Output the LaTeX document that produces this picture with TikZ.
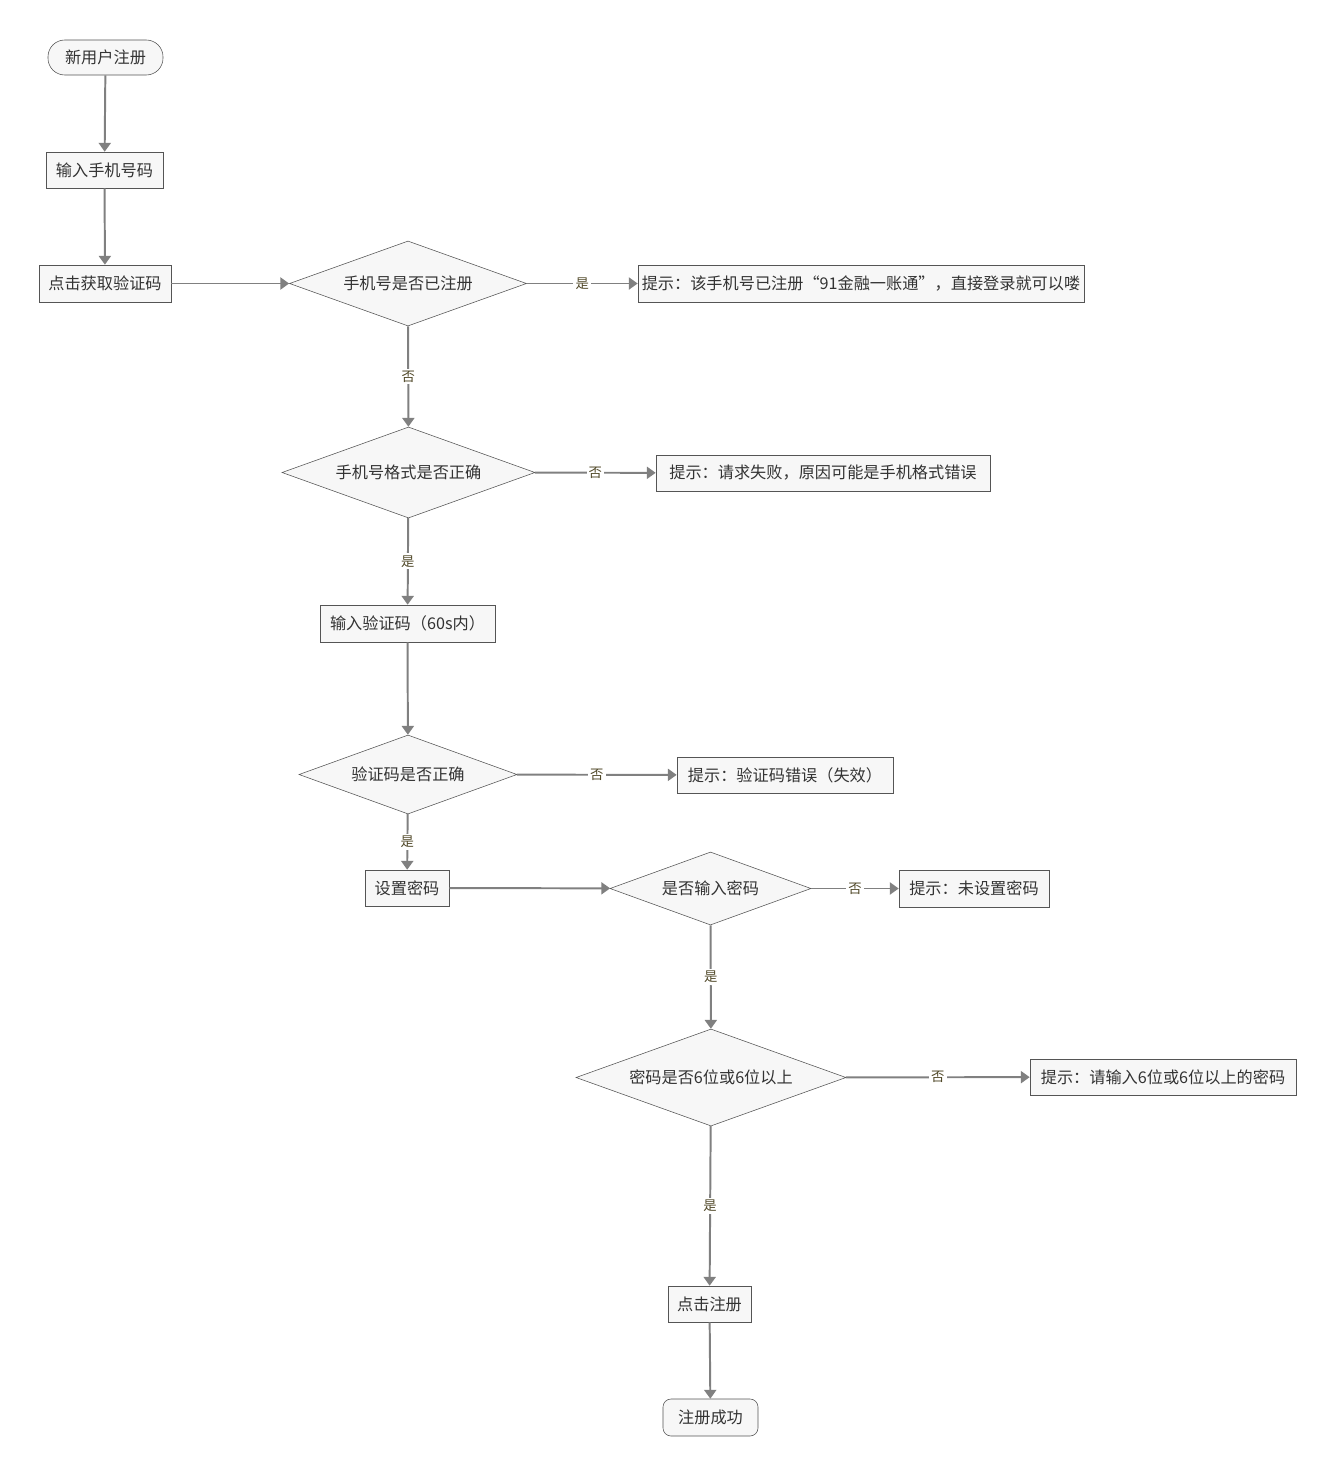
\documentclass[tikz,border=0pt]{standalone}
\usepackage{fontspec}
\setmainfont{Noto Sans CJK SC}
\usepackage{xcolor}
\definecolor{fcfill}{RGB}{247,247,247}
\definecolor{fcline}{RGB}{85,85,85}
\definecolor{fcarrow}{RGB}{128,128,128}
\definecolor{fctext}{RGB}{51,51,51}
\definecolor{fclabel}{RGB}{80,72,40}
\usetikzlibrary{arrows.meta,positioning,shapes.geometric}

\begin{document}
\begin{tikzpicture}[
    x=0.025cm, y=-0.025cm,
    term/.style={rectangle, rounded corners=0.2cm, draw=fcline, fill=fcfill,
      text=fctext, font=\fontsize{11.5pt}{13pt}\selectfont, inner sep=1pt},
    box/.style={rectangle, draw=fcline, fill=fcfill, text=fctext,
      font=\fontsize{11.5pt}{13pt}\selectfont, inner sep=1pt},
    dec/.style={diamond, draw=fcline, fill=fcfill, text=fctext, aspect=2.8,
      inner sep=0pt, font=\fontsize{11.5pt}{13pt}\selectfont},
    arr/.style={draw=fcarrow, line width=1.4pt,
      -{Triangle[length=0.22cm, width=0.3cm]}},
    lbl/.style={fill=white, text=fclabel, inner sep=1.5pt,
      font=\fontsize{9.5pt}{10pt}\selectfont}
  ]
    \useasboundingbox (0,0) rectangle (1335,1474);

    % Main column
    \node[term, rounded corners=0.42cm, minimum width=2.875cm, minimum height=0.875cm] (start) at (105.5,57.5) {新用户注册};
    \node[box, minimum width=2.925cm, minimum height=0.9cm]   (phone) at (104.5,170)  {输入手机号码};
    \node[box, minimum width=3.3cm, minimum height=0.925cm]   (getcode) at (105,283.5) {点击获取验证码};

    % Checks on the phone number
    \node[dec, minimum width=5.925cm, minimum height=2.125cm] (isreg) at (408,283.5) {手机号是否已注册};
    \node[box, minimum width=11.15cm, minimum height=0.925cm] (tipreg) at (861,283.5) {提示：该手机号已注册“91金融一账通”，直接登录就可以喽};
    \node[dec, minimum width=6.325cm, minimum height=2.275cm] (isfmt) at (408.5,472.5) {手机号格式是否正确};
    \node[box, minimum width=8.35cm, minimum height=0.9cm]    (tipfmt) at (823,473) {提示：请求失败，原因可能是手机格式错误};

    % Verification code
    \node[box, minimum width=4.375cm, minimum height=0.925cm] (code) at (407.5,623.5) {输入验证码（60s内）};
    \node[dec, minimum width=5.45cm, minimum height=1.975cm]  (iscode) at (408,774.5) {验证码是否正确};
    \node[box, minimum width=5.4cm, minimum height=0.9cm]     (tipcode) at (785,775) {提示：验证码错误（失效）};

    % Password
    \node[box, minimum width=2.1cm, minimum height=0.9cm]     (setpw) at (407,888) {设置密码};
    \node[dec, minimum width=5.025cm, minimum height=1.825cm] (haspw) at (710.5,888.5) {是否输入密码};
    \node[box, minimum width=3.75cm, minimum height=0.925cm]  (tipnopw) at (974,888.5) {提示：未设置密码};
    \node[dec, minimum width=6.75cm, minimum height=2.425cm]  (pwlen) at (711,1077.5) {密码是否6位或6位以上};
    \node[box, minimum width=6.65cm, minimum height=0.9cm]    (tiplen) at (1163,1077) {提示：请输入6位或6位以上的密码};

    % End
    \node[box, minimum width=2.075cm, minimum height=0.9cm]   (submit) at (709.5,1304) {点击注册};
    \node[term, minimum width=2.375cm, minimum height=0.925cm] (done) at (710.5,1417.5) {注册成功};

    % Connectors
    \draw[arr] (start) -- (phone);
    \draw[arr] (phone) -- (getcode);
    \draw[arr] (getcode) -- (isreg);
    \draw[arr] (isreg) -- node[lbl] {是} (tipreg);
    \draw[arr] (isreg) -- node[lbl] {否} (isfmt);
    \draw[arr] (isfmt) -- node[lbl] {否} (tipfmt);
    \draw[arr] (isfmt) -- node[lbl] {是} (code);
    \draw[arr] (code) -- (iscode);
    \draw[arr] (iscode) -- node[lbl] {否} (tipcode);
    \draw[arr] (iscode) -- node[lbl] {是} (setpw);
    \draw[arr] (setpw) -- (haspw);
    \draw[arr] (haspw) -- node[lbl] {否} (tipnopw);
    \draw[arr] (haspw) -- node[lbl] {是} (pwlen);
    \draw[arr] (pwlen) -- node[lbl] {否} (tiplen);
    \draw[arr] (pwlen) -- node[lbl] {是} (submit);
    \draw[arr] (submit) -- (done);
  \end{tikzpicture}
\end{document}
